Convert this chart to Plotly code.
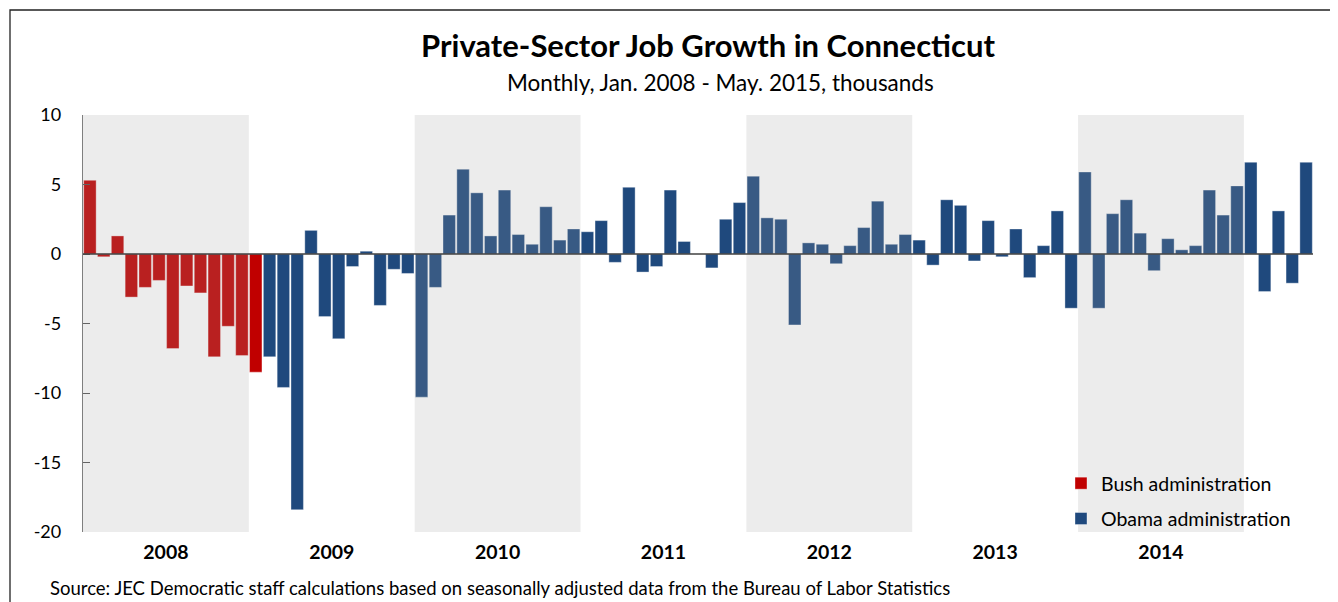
import plotly.graph_objects as go

# ---------------- data ----------------
month_names = ["Jan", "Feb", "Mar", "Apr", "May", "Jun",
               "Jul", "Aug", "Sep", "Oct", "Nov", "Dec"]
months = [f"{m} {y}" for y in range(2008, 2016) for m in month_names][:89]

bush_values = [5.3, -0.2, 1.3, -3.1, -2.4, -1.9, -6.8, -2.3, -2.8, -7.4, -5.2, -7.3,
               -8.5]
obama_values = [-7.4, -9.6, -18.4, 1.7, -4.5, -6.1, -0.9, 0.2, -3.7, -1.1, -1.4,
                -10.3, -2.4, 2.8, 6.1, 4.4, 1.3, 4.6, 1.4, 0.7, 3.4, 1.0, 1.8,
                1.6, 2.4, -0.6, 4.8, -1.3, -0.9, 4.6, 0.9, 0.0, -1.0, 2.5, 3.7,
                5.6, 2.6, 2.5, -5.1, 0.8, 0.7, -0.7, 0.6, 1.9, 3.8, 0.7, 1.4,
                1.0, -0.8, 3.9, 3.5, -0.5, 2.4, -0.2, 1.8, -1.7, 0.6, 3.1, -3.9,
                5.9, -3.9, 2.9, 3.9, 1.5, -1.2, 1.1, 0.3, 0.6, 4.6, 2.8, 4.9,
                6.6, -2.7, 3.1, -2.1, 6.6]
year_labels = ["2008", "2009", "2010", "2011", "2012", "2013", "2014"]
shaded_years = ["2008", "2010", "2012", "2014"]
y_ticks = [10, 5, 0, -5, -10, -15, -20]

# ---------------- figure ----------------
FONT = "Lato"
BUSH = "#C00000"
OBAMA = "#1F497D"

n_bush = len(bush_values)
x_bush = list(range(n_bush))
x_obama = list(range(n_bush, n_bush + len(obama_values)))

fig = go.Figure()
fig.add_trace(go.Bar(
    x=x_bush, y=bush_values, name="Bush administration", legendgroup="bush",
    marker=dict(color=BUSH, line=dict(color="rgba(255,255,255,0.45)", width=0.8)),
    hovertext=months[:n_bush], hoverinfo="text+y",
))
fig.add_trace(go.Bar(
    x=x_obama, y=obama_values, name="Obama administration", legendgroup="obama",
    marker=dict(color=OBAMA, line=dict(color="rgba(255,255,255,0.45)", width=0.8)),
    hovertext=months[n_bush:], hoverinfo="text+y",
))

# page offset of the browser (body margin) -> work in page pixels, shift by OFF
OFF = 8
W, H = 1338 - OFF, 602 - OFF
L, R, T, B = 83 - OFF, 25, 115 - OFF, 70
pw, ph = W - L - R, H - T - B


def px(xp):  # page pixel x -> paper
    return (xp - OFF - L) / pw


def py(yp):  # page pixel y -> paper
    return (H - B - (yp - OFF)) / ph


shapes = []
for yr in shaded_years:
    k = year_labels.index(yr)
    shapes.append(dict(type="rect", xref="x", yref="y", layer="above",
                       x0=12 * k - 0.5, x1=12 * k + 11.5, y0=-20, y1=10,
                       fillcolor="rgba(162,162,162,0.2)", line=dict(width=0)))
# zero line over bars
shapes.append(dict(type="line", xref="x", yref="y", layer="above",
                   x0=-0.5, x1=len(months) - 0.5, y0=0, y1=0,
                   line=dict(color="#404040", width=1.6)))
# outer frame
shapes.append(dict(type="rect", xref="paper", yref="paper", layer="above",
                   x0=px(10), x1=px(1335), y0=py(640), y1=py(10),
                   fillcolor="rgba(0,0,0,0)", line=dict(color="#222222", width=1.3)))

annotations = [
    dict(text="<b>Private-Sector Job Growth in Connecticut</b>", xref="paper", yref="paper",
         x=px(707.5), y=py(45), xanchor="center", yanchor="middle", showarrow=False,
         font=dict(family=FONT, size=31, color="#000000")),
    dict(text="Monthly, Jan. 2008 - May. 2015, thousands", xref="paper", yref="paper",
         x=px(720), y=py(82.5), xanchor="center", yanchor="middle", showarrow=False,
         font=dict(family=FONT, size=22.5, color="#000000")),
    dict(text="Source: JEC Democratic staff calculations based on seasonally adjusted data from the Bureau of Labor Statistics",
         xref="paper", yref="paper", x=px(48), y=py(588), xanchor="left", yanchor="middle",
         showarrow=False, font=dict(family=FONT, size=18.5, color="#000000")),
]

fig.update_layout(
    width=W, height=H,
    margin=dict(l=L, r=R, t=T, b=B, pad=0),
    paper_bgcolor="white", plot_bgcolor="white",
    barmode="overlay", bargap=0.1,
    font=dict(family=FONT, color="#000000"),
    shapes=shapes, annotations=annotations,
    showlegend=True,
    legend=dict(x=px(1061), y=py(464), xanchor="left", yanchor="top",
                bgcolor="rgba(0,0,0,0)", font=dict(family=FONT, size=19.5, color="#000000"),
                tracegroupgap=7, traceorder="grouped"),
    xaxis=dict(range=[-0.5, len(months) - 0.5], showgrid=False, zeroline=False,
               showline=False, ticks="",
               tickvals=[12 * i + 5.5 for i in range(len(year_labels))],
               ticktext=[f"<b>{y}</b>" for y in year_labels],
               tickfont=dict(family=FONT, size=19.5, color="#000000"),
               ticklabelstandoff=6),
    yaxis=dict(range=[-20, 10], tickvals=y_ticks, ticktext=[str(v) for v in y_ticks],
               showgrid=False, zeroline=False, showline=True, linecolor="#7f7f7f", linewidth=1.3,
               ticks="inside", ticklen=7, tickcolor="#555555", tickwidth=1.3,
               tickfont=dict(family=FONT, size=18, color="#000000"),
               ticklabelstandoff=17),
)

fig.write_html("out.html")
